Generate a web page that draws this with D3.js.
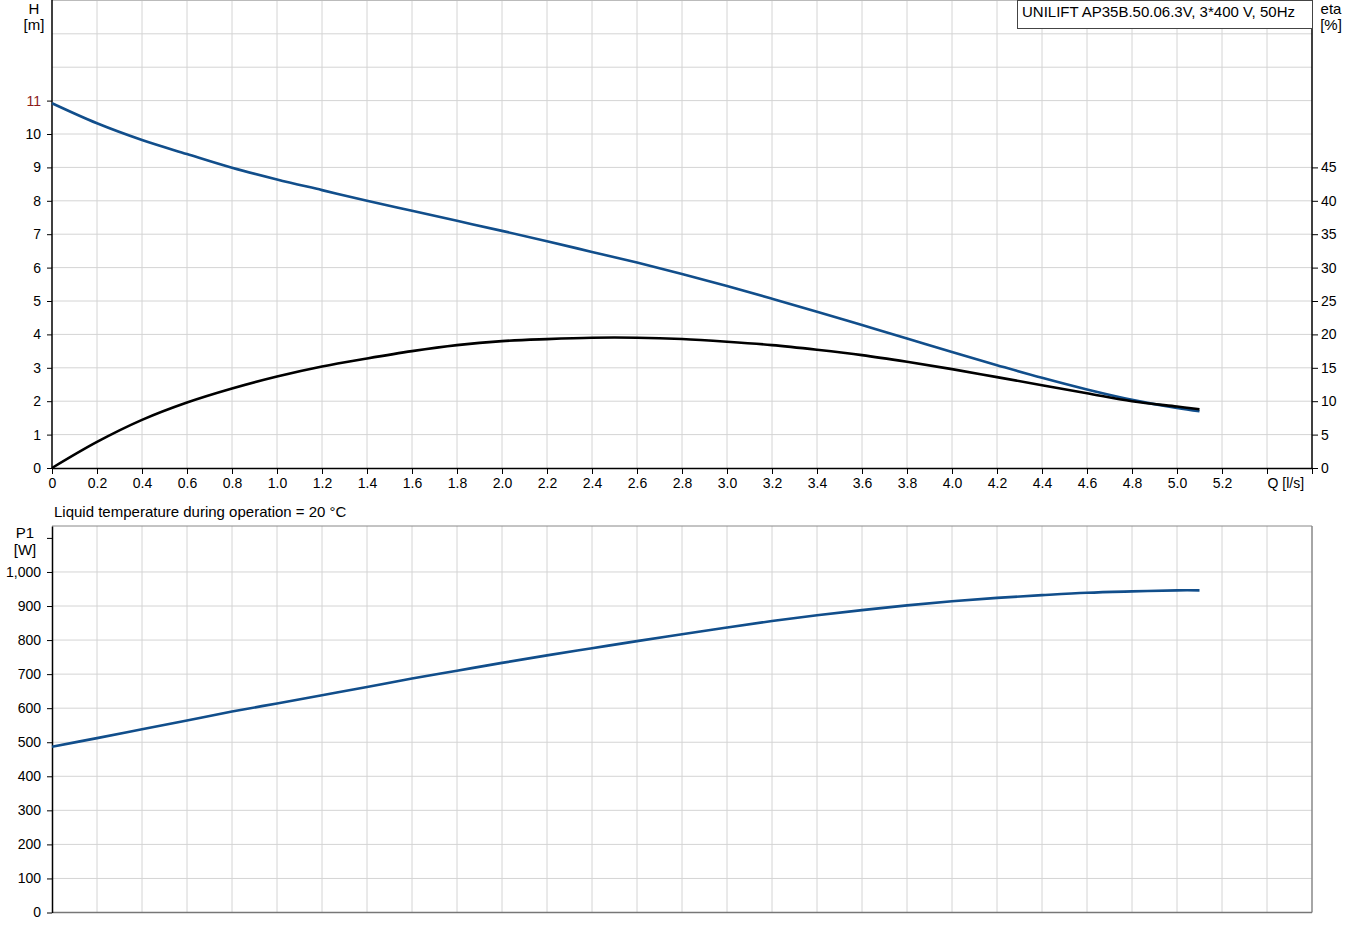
<!DOCTYPE html>
<html>
<head>
<meta charset="utf-8">
<script src="https://cdn.jsdelivr.net/npm/d3@7"></script>
<style>
  body { margin: 0; background: #fff; }
  svg { font-family: "Liberation Sans", Arial, sans-serif; font-size: 15px; }
  .grid line { stroke: #d4d4d4; stroke-width: 1; }
  .axis path, .axis line { stroke: #000; }
  .axis text { fill: #000; font-size: 14px; font-family: "Liberation Sans", Arial, sans-serif; }
</style>
</head>
<body>
<svg width="1349" height="938"></svg>
<script>
// flow points [l/s]
var flow = [0, 0.2, 0.4, 0.6, 0.8, 1.0, 1.2, 1.4, 1.6, 1.8, 2.0, 2.2, 2.4, 2.6, 2.8, 3.0, 3.2, 3.4, 3.6, 3.8, 4.0, 4.2, 4.4, 4.6, 4.8, 5.0, 5.1];
// head [m]
var head = [10.92, 10.32, 9.82, 9.40, 8.99, 8.64, 8.32, 8.00, 7.70, 7.40, 7.10, 6.79, 6.47, 6.15, 5.81, 5.45, 5.07, 4.68, 4.28, 3.88, 3.47, 3.08, 2.70, 2.35, 2.04, 1.80, 1.70];
// efficiency [%]
var eta = [0, 3.9, 7.2, 9.8, 11.9, 13.7, 15.2, 16.4, 17.5, 18.4, 19.0, 19.3, 19.5, 19.5, 19.3, 18.9, 18.4, 17.7, 16.9, 15.9, 14.8, 13.6, 12.4, 11.2, 10.0, 9.2, 8.8];
// power P1 [W]
var power = [487, 512, 538, 564, 590, 614, 638, 662, 687, 710, 733, 755, 776, 797, 817, 837, 856, 873, 888, 902, 914, 924, 932, 939, 943, 946, 946];

var qTicks = d3.range(0, 5.61, 0.2).map(function(d) { return +d.toFixed(1); });
var hTicks = d3.range(0, 12);
var etaTicks = d3.range(0, 50, 5);
var pTicks = d3.range(0, 1200, 100);

var title = "UNILIFT AP35B.50.06.3V, 3*400 V, 50Hz";
var note = "Liquid temperature during operation = 20 °C";

var blue = "#114e8b";

var svg = d3.select("svg");

var x = d3.scaleLinear().domain([0, 5.6]).range([52, 1312]);
var yH = d3.scaleLinear().domain([0, 14]).range([468, 0.4]);
var yEta = d3.scaleLinear().domain([0, 70]).range([468, 0.4]);
var yP = d3.scaleLinear().domain([0, 1135]).range([912.5, 526]);

// ---------- top chart ----------
var topG = svg.append("g");

topG.append("g").attr("class", "grid")
  .selectAll("line").data(qTicks.filter(function(d) { return d > 0 && d < 5.6; }))
  .enter().append("line")
    .attr("x1", function(d) { return x(d); }).attr("x2", function(d) { return x(d); })
    .attr("y1", yH(14)).attr("y2", yH(0));

topG.append("g").attr("class", "grid")
  .selectAll("line").data(d3.range(1, 14))
  .enter().append("line")
    .attr("x1", x(0)).attr("x2", x(5.6))
    .attr("y1", function(d) { return yH(d); }).attr("y2", function(d) { return yH(d); });

topG.append("line").attr("x1", x(0)).attr("x2", x(5.6)).attr("y1", 0.5).attr("y2", 0.5).attr("stroke", "#bbb");

var xAxis = topG.append("g").attr("class", "axis")
  .attr("transform", "translate(0," + yH(0) + ")")
  .call(d3.axisBottom(x).tickValues(qTicks).tickSize(6).tickPadding(4).tickSizeOuter(0)
    .tickFormat(function(d) {
      if (d === 0) return "0";
      if (d === 5.4) return "Q [l/s]";
      if (d === 5.6) return "";
      return d3.format(".1f")(d);
    }));
xAxis.select(".domain").attr("stroke-width", 1.5);
xAxis.selectAll(".tick text").filter(function(d) { return d === 5.4; }).attr("text-anchor", "start");

var hAxis = topG.append("g").attr("class", "axis")
  .attr("transform", "translate(" + x(0) + ",0)")
  .call(d3.axisLeft(yH).tickValues(hTicks).tickSize(5).tickPadding(6).tickSizeOuter(0));
hAxis.select(".domain").attr("d", "M0," + yH(0) + "V0").attr("stroke-width", 1.5);
hAxis.selectAll(".tick text").filter(function(d) { return d === 11; }).style("fill", "#8b1a1a");

var etaAxis = topG.append("g").attr("class", "axis")
  .attr("transform", "translate(" + x(5.6) + ",0)")
  .call(d3.axisRight(yEta).tickValues(etaTicks).tickSize(6).tickPadding(3).tickSizeOuter(0));
etaAxis.select(".domain").attr("d", "M0," + yEta(0) + "V0").attr("stroke-width", 1.5);

topG.append("text").attr("x", 34).attr("y", 14).attr("text-anchor", "middle").text("H");
topG.append("text").attr("x", 34).attr("y", 30).attr("text-anchor", "middle").text("[m]");
topG.append("text").attr("x", 1331).attr("y", 14).attr("text-anchor", "middle").text("eta");
topG.append("text").attr("x", 1331).attr("y", 30).attr("text-anchor", "middle").text("[%]");

topG.append("rect").attr("x", 1017.5).attr("y", 0.5).attr("width", 295).attr("height", 28)
  .attr("fill", "#fff").attr("stroke", "#444");
topG.append("text").attr("x", 1022).attr("y", 17).text(title);

var headLine = d3.line()
  .x(function(d, i) { return x(flow[i]); })
  .y(function(d) { return yH(d); })
  .curve(d3.curveCatmullRom.alpha(0.5));
var etaLine = d3.line()
  .x(function(d, i) { return x(flow[i]); })
  .y(function(d) { return yEta(d); })
  .curve(d3.curveCatmullRom.alpha(0.5));

topG.append("path").datum(head).attr("d", headLine)
  .attr("fill", "none").attr("stroke", blue).attr("stroke-width", 2.6);
topG.append("path").datum(eta).attr("d", etaLine)
  .attr("fill", "none").attr("stroke", "#000").attr("stroke-width", 2.6);

// ---------- bottom chart ----------
var botG = svg.append("g");

botG.append("text").attr("x", 54).attr("y", 517).text(note);

botG.append("g").attr("class", "grid")
  .selectAll("line").data(qTicks.filter(function(d) { return d > 0 && d < 5.6; }))
  .enter().append("line")
    .attr("x1", function(d) { return x(d); }).attr("x2", function(d) { return x(d); })
    .attr("y1", yP(1135)).attr("y2", yP(0));

botG.append("g").attr("class", "grid")
  .selectAll("line").data(d3.range(100, 1001, 100))
  .enter().append("line")
    .attr("x1", x(0)).attr("x2", x(5.6))
    .attr("y1", function(d) { return yP(d); }).attr("y2", function(d) { return yP(d); });

botG.append("line").attr("x1", x(0)).attr("x2", x(5.6)).attr("y1", yP(1135)).attr("y2", yP(1135)).attr("stroke", "#888");
botG.append("line").attr("x1", x(5.6)).attr("x2", x(5.6)).attr("y1", yP(1135)).attr("y2", yP(0)).attr("stroke", "#888").attr("stroke-width", 1.5);
botG.append("line").attr("x1", x(0)).attr("x2", x(5.6)).attr("y1", yP(0)).attr("y2", yP(0)).attr("stroke", "#777").attr("stroke-width", 1.5);

var pAxis = botG.append("g").attr("class", "axis")
  .attr("transform", "translate(" + x(0) + ",0)")
  .call(d3.axisLeft(yP).tickValues(pTicks).tickSize(5).tickPadding(6).tickSizeOuter(0)
    .tickFormat(function(d) { return d > 1000 ? "" : d3.format(",")(d); }));
pAxis.select(".domain").attr("stroke-width", 1.5);

botG.append("text").attr("x", 25).attr("y", 538).attr("text-anchor", "middle").text("P1");
botG.append("text").attr("x", 25).attr("y", 555).attr("text-anchor", "middle").text("[W]");

var pLine = d3.line()
  .x(function(d, i) { return x(flow[i]); })
  .y(function(d) { return yP(d); })
  .curve(d3.curveCatmullRom.alpha(0.5));

botG.append("path").datum(power).attr("d", pLine)
  .attr("fill", "none").attr("stroke", blue).attr("stroke-width", 2.6);
</script>
</body>
</html>
